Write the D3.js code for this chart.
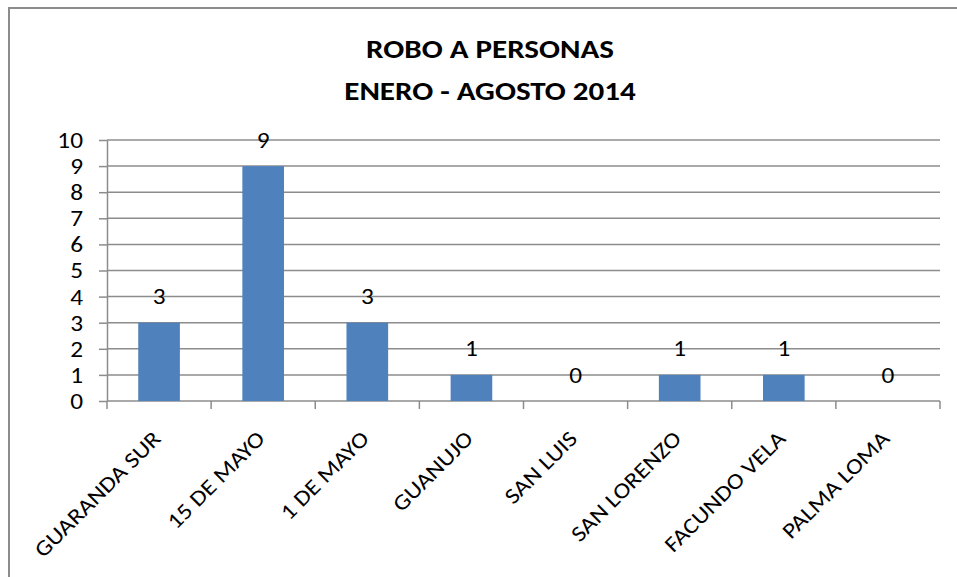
<!DOCTYPE html>
<html>
<head>
<meta charset="utf-8">
<script src="https://cdn.jsdelivr.net/npm/d3@7"></script>
<style>
  body { margin: 0; background: #fff; }
  text { font-family: Carlito, "Liberation Sans Narrow", "Liberation Sans", sans-serif; fill: #000; }
</style>
</head>
<body>
<div id="chart"></div>
<script>
// Chart data
const categories = ['GUARANDA SUR', '15 DE MAYO', '1 DE MAYO', 'GUANUJO', 'SAN LUIS', 'SAN LORENZO', 'FACUNDO VELA', 'PALMA LOMA'];
const robos = [3, 9, 3, 1, 0, 1, 1, 0];
const yTicks = [0, 1, 2, 3, 4, 5, 6, 7, 8, 9, 10];
const titleLines = ['ROBO A PERSONAS', 'ENERO - AGOSTO 2014'];

const W = 957;
const H = 577;
// The reference picture is a bit wider than tall, so text is stretched sideways
const SX = 1.15;

const svg = d3.select('#chart')
  .append('svg')
  .attr('width', W)
  .attr('height', H);

// Outer chart frame (runs off the right and bottom of the picture)
svg.append('rect')
  .attr('x', 9)
  .attr('y', 8)
  .attr('width', 980)
  .attr('height', 620)
  .attr('fill', 'none')
  .attr('stroke', '#8c8c8c')
  .attr('stroke-width', 2);

// Plot area
const plotLeft = 107;
const plotRight = 940;
const plotTop = 140;
const plotBottom = 401;

const x = d3.scaleBand().domain(categories).range([plotLeft, plotRight]).paddingInner(0.6).paddingOuter(0.3);
const y = d3.scaleLinear().domain([0, 10]).range([plotBottom, plotTop]);

// Horizontal gridlines
svg.append('g')
  .selectAll('line')
  .data(yTicks.slice(1))
  .enter()
  .append('line')
  .attr('x1', plotLeft)
  .attr('x2', plotRight)
  .attr('y1', (d) => y(d))
  .attr('y2', (d) => y(d))
  .attr('stroke', '#8c8c8c')
  .attr('stroke-width', 1.5);

// Y axis
const yAxis = d3.axisLeft(y).tickValues(yTicks).tickSize(8).tickPadding(16).tickSizeOuter(0);
const gy = svg.append('g').attr('transform', `translate(${plotLeft}, 0)`).call(yAxis);
gy.select('.domain').attr('stroke', '#8c8c8c').attr('stroke-width', 1.5);
gy.selectAll('.tick line').attr('stroke', '#8c8c8c').attr('stroke-width', 1.5);
gy.selectAll('.tick text')
  .attr('x', null)
  .attr('dy', '0.34em')
  .attr('transform', `translate(-24, 0) scale(${SX}, 1)`)
  .style('font-size', '22px')
  .attr('fill', '#000');

// X axis: line plus ticks on category boundaries
const boundaries = d3.range(categories.length + 1).map((i) => plotLeft + i * (plotRight - plotLeft) / categories.length);
svg.append('line')
  .attr('x1', plotLeft)
  .attr('x2', plotRight)
  .attr('y1', plotBottom)
  .attr('y2', plotBottom)
  .attr('stroke', '#8c8c8c')
  .attr('stroke-width', 1.5);
svg.append('g')
  .selectAll('line')
  .data(boundaries)
  .enter()
  .append('line')
  .attr('x1', (d) => d)
  .attr('x2', (d) => d)
  .attr('y1', plotBottom)
  .attr('y2', plotBottom + 8)
  .attr('stroke', '#8c8c8c')
  .attr('stroke-width', 1.5);

// Category labels, rotated 45 degrees
svg.append('g')
  .selectAll('text')
  .data(categories)
  .enter()
  .append('text')
  .attr('text-anchor', 'end')
  .attr('transform', (d) => `translate(${x(d) + x.bandwidth() / 2 + 3}, ${plotBottom + 39}) rotate(-45) scale(${SX}, 1)`)
  .style('font-size', '22px')
  .text((d) => d);

// Bars
svg.append('g')
  .selectAll('rect')
  .data(robos)
  .enter()
  .append('rect')
  .attr('x', (d, i) => x(categories[i]))
  .attr('y', (d) => y(d))
  .attr('width', x.bandwidth())
  .attr('height', (d) => plotBottom - y(d))
  .attr('fill', '#4f81bd');

// Value labels
svg.append('g')
  .selectAll('text')
  .data(robos)
  .enter()
  .append('text')
  .attr('text-anchor', 'middle')
  .attr('transform', (d, i) => `translate(${x(categories[i]) + x.bandwidth() / 2}, ${y(d) - 18.5}) scale(${SX}, 1)`)
  .style('font-size', '22px')
  .text((d) => d);

// Title
svg.append('g')
  .selectAll('text')
  .data(titleLines)
  .enter()
  .append('text')
  .attr('text-anchor', 'middle')
  .attr('transform', (d, i) => `translate(490, ${58 + i * 41.5}) scale(${SX}, 1)`)
  .style('font-size', '27px')
  .style('font-weight', 'bold')
  .text((d) => d);
</script>
</body>
</html>
